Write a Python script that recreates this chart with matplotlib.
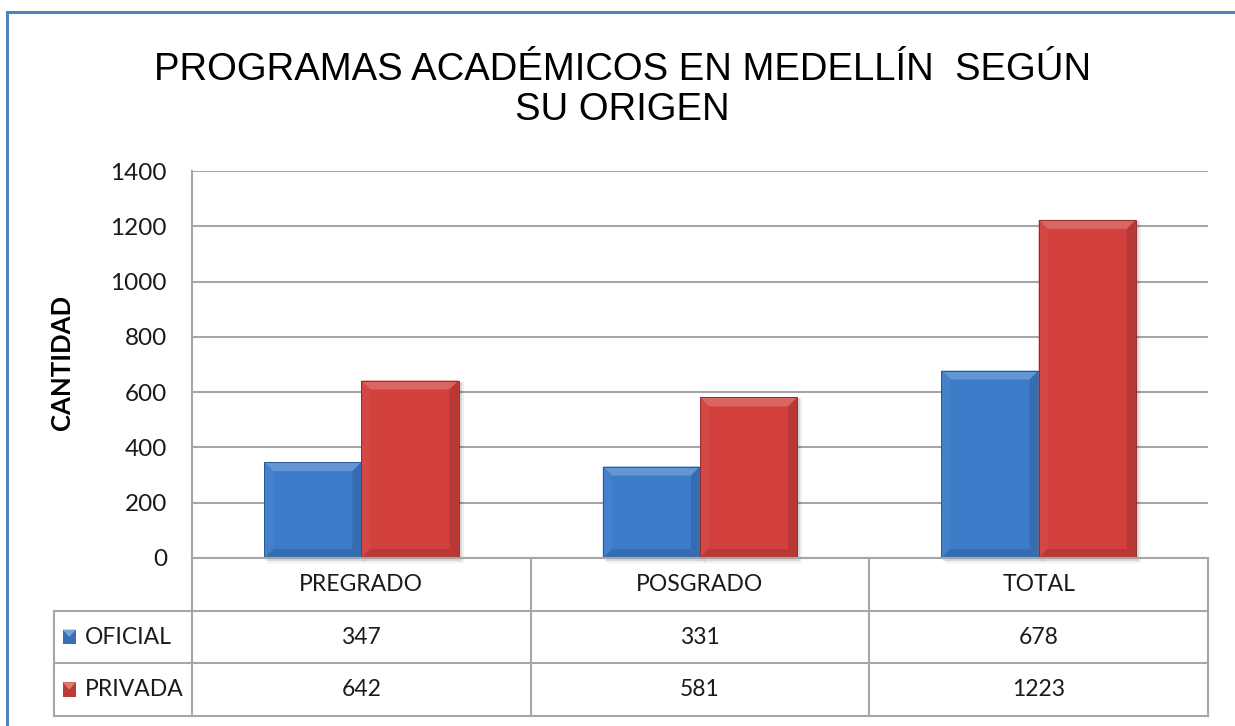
import numpy as np
import matplotlib
matplotlib.use("Agg")
import matplotlib.pyplot as plt
from matplotlib.patches import Polygon, Rectangle
from matplotlib.lines import Line2D
from matplotlib.colors import to_rgb

# data
categories = ["PREGRADO", "POSGRADO", "TOTAL"]
series_names = ["OFICIAL", "PRIVADA"]
oficial = [347, 331, 678]
privada = [642, 581, 1223]
yticks = [0, 200, 400, 600, 800, 1000, 1200, 1400]

title = "PROGRAMAS ACADÉMICOS EN MEDELLÍN  SEGÚN\nSU ORIGEN"
ylabel = "CANTIDAD"

blue = "#3d7cc9"
red = "#d1403d"
grid_col = "#a6a6a6"
num_font = "Lato"

W, H = 1235, 726
fig = plt.figure(figsize=(W / 100, H / 100), dpi=100)


def fx(px):
    return px / W


def fy(py):
    return 1 - py / H


def shade(c, f):
    r, g, b = to_rgb(c)
    if f >= 0:
        return (r + (1 - r) * f, g + (1 - g) * f, b + (1 - b) * f)
    return (r * (1 + f), g * (1 + f), b * (1 + f))


# outer blue frame
fig.add_artist(Rectangle((fx(7), -0.1), 1.2, fy(12) + 0.1, transform=fig.transFigure,
                         fill=False, edgecolor="#4f81bd", linewidth=2.2))

fig.text(0.504, fy(90), title, ha="center", va="center", fontsize=27.5,
         family="Liberation Sans", linespacing=1.15)

ax = fig.add_axes([fx(192), fy(558), fx(1208) - fx(192), fy(171) - fy(558)])
x = np.arange(len(categories))
bw = 0.287
bars_o = ax.bar(x - bw / 2, oficial, bw, color=blue, linewidth=0, zorder=3)
bars_p = ax.bar(x + bw / 2, privada, bw, color=red, linewidth=0, zorder=3)
ax.set_xlim(-0.5, len(categories) - 0.5)
ax.set_ylim(0, 1400)
ax.set_yticks(yticks)
ax.set_yticklabels([str(v) for v in yticks], fontsize=17.5, family=num_font,
                   color="#1a1a1a")
ax.set_xticks([])
ax.tick_params(axis="y", length=0, pad=18)
ax.yaxis.grid(True, color=grid_col, linewidth=1.5, zorder=0)
for s in ["top", "right", "bottom"]:
    ax.spines[s].set_visible(False)
ax.spines["left"].set_color(grid_col)
ax.spines["left"].set_linewidth(1.5)
fig.text(fx(62), fy(362), ylabel, rotation=90, ha="center", va="center",
         fontsize=18.5, fontweight="bold", family=num_font)

# bevel look on each bar, built from the bar rectangles
fig.canvas.draw()
to_data = ax.transData.inverted()


def bevel(bars, color):
    for r in bars:
        x0, y0 = r.get_x(), r.get_y()
        x1, y1 = x0 + r.get_width(), y0 + r.get_height()
        p0 = ax.transData.transform((x0, y0))
        p1 = ax.transData.transform((x1, y1))
        d = 9
        q0 = to_data.transform((p0[0] + d, p0[1] + d))
        q1 = to_data.transform((p1[0] - d, p1[1] - d))
        # soft shadow
        for k, a in [(5, 0.06), (3, 0.1)]:
            sh0 = to_data.transform((p0[0] + k - 1, p0[1] - k))
            sh1 = to_data.transform((p1[0] + k, p1[1] - 1))
            ax.add_patch(Rectangle(sh0, sh1[0] - sh0[0], sh1[1] - sh0[1],
                                   color="#000000", alpha=a, zorder=2, linewidth=0,
                                   clip_on=False))
        faces = [
            ([(x0, y1), (x1, y1), (q1[0], q1[1]), (q0[0], q1[1])], 0.2),
            ([(x0, y0), (x0, y1), (q0[0], q1[1]), (q0[0], q0[1])], 0.04),
            ([(x1, y0), (x1, y1), (q1[0], q1[1]), (q1[0], q0[1])], -0.12),
            ([(x0, y0), (x1, y0), (q1[0], q0[1]), (q0[0], q0[1])], -0.12),
        ]
        for pts, f in faces:
            ax.add_patch(Polygon(pts, closed=True, color=shade(color, f),
                                 linewidth=0, zorder=4))
        ax.add_patch(Rectangle((x0, y0), x1 - x0, y1 - y0, fill=False,
                               edgecolor=shade(color, -0.3), linewidth=0.7, zorder=5))


bevel(bars_o, blue)
bevel(bars_p, red)

# data table under the chart
tab = fig.add_axes([fx(192), fy(716), fx(1208) - fx(192), fy(558) - fy(716)])
tab.set_xlim(ax.get_xlim())
tab.set_ylim(0, 3)
tab.axis("off")
left = -0.5 - (192 - 54) / 338
lk = dict(color=grid_col, linewidth=1.5, clip_on=False)
for yy in [0, 1, 2]:
    tab.add_line(Line2D([left, 2.5], [yy, yy], **lk))
tab.add_line(Line2D([-0.5, 2.5], [3, 3], **lk))
tab.add_line(Line2D([left, left], [0, 2], **lk))
for xx in np.arange(-0.5, len(categories)):
    tab.add_line(Line2D([xx, xx], [0, 3], **lk))

tk = dict(va="center", fontsize=16.5, family=num_font, color="#1a1a1a")
for i, c in enumerate(categories):
    tab.text(i, 2.5, c, ha="center", **tk)
for row, (name, vals, col) in enumerate(zip(series_names, [oficial, privada], [blue, red])):
    yc = 1.5 - row
    for i, v in enumerate(vals):
        tab.text(i, yc, str(v), ha="center", **tk)
    kx = left + 9 / 338
    kw = 13 / 338
    tab.add_patch(Rectangle((kx, yc - 0.14), kw, 0.28, color=shade(col, -0.1),
                            clip_on=False, linewidth=0))
    tab.add_patch(Polygon([(kx, yc + 0.14), (kx + kw, yc + 0.14), (kx + kw / 2, yc)],
                          color=shade(col, 0.3), clip_on=False, linewidth=0))
    tab.text(kx + kw + 9 / 338, yc, name, ha="left", **tk)

fig.savefig("out.png", dpi=100)
